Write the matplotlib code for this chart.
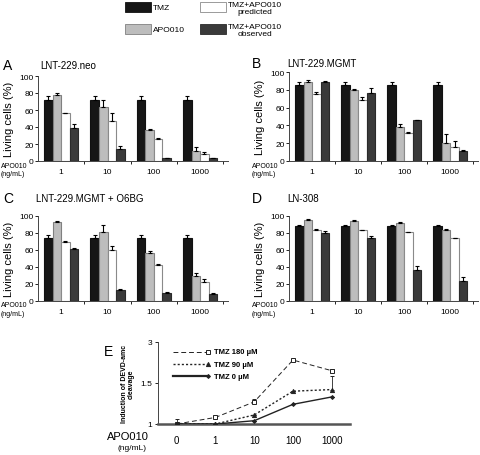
import numpy as np
import matplotlib
matplotlib.use('Agg')
import matplotlib.pyplot as plt
from matplotlib.patches import Rectangle

plt.rcParams['font.family'] = ['Liberation Sans', 'DejaVu Sans']

doses = ['1', '10', '100', '1000']
series = ['TMZ', 'APO010', 'TMZ+APO010\npredicted', 'TMZ+APO010\nobserved']
colors = ['#161616', '#bdbdbd', '#ffffff', '#3a3a3a']
edges = ['#111111', '#808080', '#8a8a8a', '#2a2a2a']

# living cells (%) per panel: rows = series, cols = dose
neo_val = [[72, 72, 72, 72], [78, 64, 36, 12], [56, 47, 26, 8], [39, 14, 3, 3]]
neo_err = [[5, 5, 5, 5], [2, 8, 2, 5], [1, 9, 0.5, 3], [5, 4, 1, 1]]
mgmt_val = [[85, 85, 85, 85], [89, 80, 38, 20], [75, 68, 32, 16], [89, 76, 46, 11]]
mgmt_err = [[4, 4, 4, 4], [1.5, 1, 4, 10], [3, 4, 1, 7], [1, 6, 0, 1]]
o6bg_val = [[74, 74, 74, 74], [93, 81, 56, 30], [69, 60, 42, 22], [61, 13, 10, 8]]
o6bg_err = [[4, 4, 4, 4], [1, 9, 3, 3], [1.5, 5, 1, 4], [1, 1, 1, 1]]
ln308_val = [[88, 88, 88, 88], [95, 94, 92, 84], [84, 83, 81, 74], [80, 74, 37, 24]]
ln308_err = [[2, 2, 2, 2], [2, 1.5, 1, 1], [0.5, 0.5, 0.5, 0.5], [2, 2, 4, 4]]

# panel E
e_doses = ['0', '1', '10', '100', '1000']
e_labels = ['TMZ 180 µM', 'TMZ 90 µM', 'TMZ 0 µM']
tmz180 = [1.0, 1.08, 1.27, 1.78, 1.65]
tmz180_err = [0, 0, 0.04, 0, 0.02]
tmz90 = [1.0, 1.0, 1.11, 1.40, 1.42]
tmz90_err = [0, 0, 0, 0, 0.17]
tmz0 = [1.0, 1.0, 1.04, 1.24, 1.33]
tmz0_err = [0.06, 0, 0, 0, 0]

fig = plt.figure(figsize=(4.8, 4.56), dpi=100)
W, H = 480.0, 456.0


def axes_px(left, top, right, bottom):
    return fig.add_axes([left / W, 1 - bottom / H, (right - left) / W, (bottom - top) / H])


def bar_panel(ax, vals, errs, letter, title, lx, ly, tx, ux):
    w = 0.184
    x = np.arange(len(doses))
    for i in range(4):
        xi = x + (i - 1.5) * w
        ax.bar(xi, vals[i], w, color=colors[i], edgecolor=edges[i], linewidth=0.8, zorder=2)
        ax.errorbar(xi, vals[i], yerr=[np.zeros(4), errs[i]], fmt='none', ecolor='black',
                    elinewidth=0.8, capsize=1.5, capthick=0.8, zorder=3)
    ax.set_xlim(-0.5, 3.6)
    ax.set_ylim(0, 100)
    ax.set_yticks([0, 20, 40, 60, 80, 100])
    ax.tick_params(axis='y', labelsize=6, length=2, width=0.6, pad=1)
    ax.set_xticks(x)
    ax.set_xticklabels(doses, fontsize=6)
    ax.tick_params(axis='x', length=0, pad=5)
    ax.set_xticks([0.5, 1.5, 2.5, 3.5], minor=True)
    ax.tick_params(axis='x', which='minor', length=2, width=0.6)
    for s in ['top', 'right']:
        ax.spines[s].set_visible(False)
    for s in ['left', 'bottom']:
        ax.spines[s].set_linewidth(0.7)
        ax.spines[s].set_color('#444444')
    ax.set_ylabel('Living cells (%)', fontsize=8, labelpad=4)
    bottom_px = (1 - ax.get_position().y0) * H
    fig.text(ux / W, 1 - (bottom_px + 4) / H, 'APO010', fontsize=5, ha='left', va='center')
    fig.text(ux / W, 1 - (bottom_px + 13) / H, '(ng/mL)', fontsize=5, ha='left', va='center')
    fig.text(lx / W, 1 - ly / H, letter, fontsize=10, ha='left', va='center')
    fig.text(tx / W, 1 - ly / H, title, fontsize=7, ha='left', va='center')


axA = axes_px(38, 77, 228, 162)
bar_panel(axA, neo_val, neo_err, 'A', 'LNT-229.neo', 3, 66, 40, 1)
axB = axes_px(289, 73, 478, 162)
bar_panel(axB, mgmt_val, mgmt_err, 'B', 'LNT-229.MGMT', 252, 64, 287, 252)
axC = axes_px(38, 217, 228, 302)
bar_panel(axC, o6bg_val, o6bg_err, 'C', 'LNT-229.MGMT + O6BG', 3, 199, 36, 1)
axD = axes_px(289, 217, 478, 302)
bar_panel(axD, ln308_val, ln308_err, 'D', 'LN-308', 252, 199, 287, 252)

# legend at top
leg_items = [(125, 3, 'TMZ', 0), (125, 25, 'APO010', 1), (200, 3, series[2], 2), (200, 25, series[3], 3)]
for px, py, lab, k in leg_items:
    fig.patches.append(Rectangle((px / W, 1 - (py + 10) / H), 26 / W, 10 / H, transform=fig.transFigure,
                                 facecolor=colors[k], edgecolor=edges[k], linewidth=0.6))
    if k < 2:
        fig.text((px + 28) / W, 1 - (py + 5) / H, lab, fontsize=6, ha='left', va='center')
    else:
        fig.text((px + 55) / W, 1 - (py + 6) / H, lab, fontsize=6, ha='center', va='center',
                 linespacing=1.1)

# panel E
axE = axes_px(158, 343, 350, 425)
xe = np.arange(len(e_doses))
styles = [dict(ls=(0, (5, 3)), lw=0.7, marker='s', mfc='white', ms=3.5),
          dict(ls=(0, (1.5, 1.5)), lw=1.0, marker='^', mfc='#222222', ms=3),
          dict(ls='-', lw=1.0, marker='D', mfc='#222222', ms=2)]
e_vals = [tmz180, tmz90, tmz0]
e_errs = [tmz180_err, tmz90_err, tmz0_err]
for vals, errs, st in zip(e_vals, e_errs, styles):
    axE.errorbar(xe, vals, yerr=[np.zeros(5), errs], color='#222222', mec='#222222', mew=0.7,
                 capsize=1.5, elinewidth=0.6, zorder=3, **st)
axE.set_xlim(-0.48, 4.47)
axE.set_ylim(1, 2.0)
axE.set_yticks([1, 1.5, 2.0])
axE.set_yticklabels(['1', '1.5', '3'])
axE.tick_params(axis='y', labelsize=6, length=2, width=0.6, pad=2)
axE.set_xticks(xe)
axE.set_xticklabels(e_doses, fontsize=7)
axE.tick_params(axis='x', length=0, pad=8)
for s in ['top', 'right']:
    axE.spines[s].set_visible(False)
axE.spines['left'].set_linewidth(0.7)
axE.spines['left'].set_color('#444444')
axE.spines['bottom'].set_linewidth(1.8)
axE.spines['bottom'].set_color('#555555')
axE.set_ylabel('Induction of DEVD-amc\ncleavage', fontsize=5, fontweight='bold', labelpad=4,
               linespacing=1.0)

# hand-drawn legend: line with marker at its right end
for j, (lab, st) in enumerate(zip(e_labels, styles)):
    ly = 0.88 - j * 0.15
    axE.plot([0.08, 0.26], [ly, ly], transform=axE.transAxes, color='#222222',
             ls=st['ls'], lw=st['lw'] + (0.6 if j == 2 else 0), clip_on=False)
    axE.plot([0.26], [ly], transform=axE.transAxes, color='#222222', marker=st['marker'],
             mfc=st['mfc'], mec='#222222', ms=st['ms'], mew=0.7, ls='none', clip_on=False)
    axE.text(0.29, ly, lab, transform=axE.transAxes, fontsize=5.5, fontweight='bold',
             ha='left', va='center')

fig.text(104 / W, 1 - 352 / H, 'E', fontsize=10, ha='left', va='center')
fig.text(128 / W, 1 - 437 / H, 'APO010', fontsize=8, ha='center', va='center')
fig.text(132 / W, 1 - 449 / H, '(ng/mL)', fontsize=6, ha='center', va='center')

fig.savefig('out.png', dpi=100)
